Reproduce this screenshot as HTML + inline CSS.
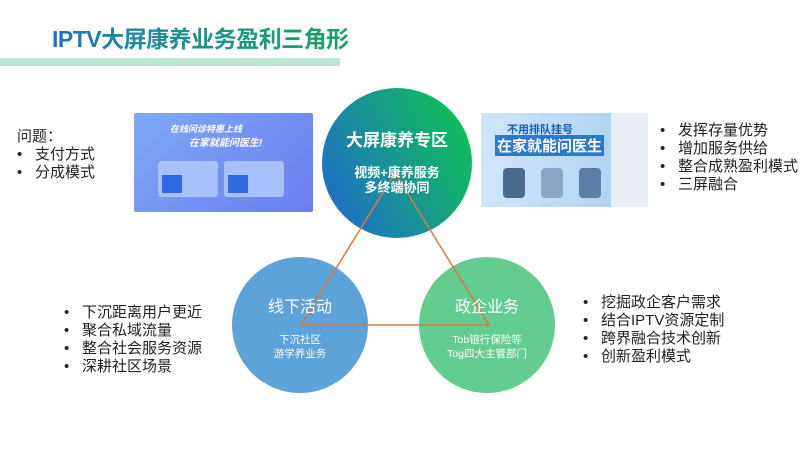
<!DOCTYPE html>
<html><head><meta charset="utf-8"><style>
*{margin:0;padding:0}
body{width:800px;height:450px;background:#fff;position:relative;overflow:hidden;font-family:"Liberation Sans","Noto Sans CJK SC",sans-serif}
.a{position:absolute;white-space:nowrap}
.t{font-size:15px;line-height:18px;color:#222}
.t span{display:inline-block;width:18px}
</style></head><body>
<div class="a" style="left:52px;top:24px;font-size:23px;font-weight:bold;line-height:30px;background:linear-gradient(90deg,#1f6fc4 0%,#1f8aa0 30%,#16a65a 100%);-webkit-background-clip:text;color:transparent;letter-spacing:-0.5px">IPTV大屏康养业务盈利三角形</div>
<div class="a" style="left:0;top:58px;width:340px;height:8px;background:#bfe6d3"></div>

<div class="a" style="left:134px;top:113px;width:179px;height:99px;background:linear-gradient(135deg,#7fa8f4,#6a7ff0);border-radius:2px">
 <div class="a" style="left:36px;top:9px;font-size:9px;color:#fff;font-weight:bold;font-style:italic">在线问诊特惠上线</div>
 <div class="a" style="left:55px;top:21px;font-size:10px;color:#fff;font-weight:bold;font-style:italic">在家就能问医生!</div>
 <div class="a" style="left:24px;top:48px;width:60px;height:36px;background:#a8c0fb;border-radius:3px"></div>
 <div class="a" style="left:90px;top:48px;width:60px;height:36px;background:#a8c0fb;border-radius:3px"></div>
 <div class="a" style="left:28px;top:62px;width:20px;height:18px;background:#2f6ae0"></div>
 <div class="a" style="left:94px;top:62px;width:20px;height:18px;background:#2f6ae0"></div>
</div>

<div class="a" style="left:481px;top:113px;width:167px;height:94px;background:linear-gradient(90deg,#cfe6fb,#a9cff1)">
 <div class="a" style="left:26px;top:8px;font-size:11px;font-weight:bold;color:#1d5fb5">不用排队挂号</div>
 <div class="a" style="left:14px;top:22px;font-size:15px;font-weight:bold;color:#fff;background:#2a79cf;padding:0 2px">在家就能问医生</div>
 <div class="a" style="left:22px;top:55px;width:22px;height:30px;background:#4a6a8e;border-radius:4px"></div>
 <div class="a" style="left:60px;top:55px;width:22px;height:30px;background:#8aa6c6;border-radius:4px"></div>
 <div class="a" style="left:98px;top:55px;width:22px;height:30px;background:#5c7da5;border-radius:4px"></div>
 <div class="a" style="left:130px;top:0;width:37px;height:94px;background:#e8eef4"></div>
</div>

<svg class="a" style="left:0;top:0" width="800" height="450">
 <defs><linearGradient id="g" x1="0" y1="0.75" x2="1" y2="0.25"><stop offset="0" stop-color="#1f6ec9"/><stop offset="1" stop-color="#10c055"/></linearGradient></defs>
 <circle cx="397" cy="163" r="75" fill="url(#g)"/>
 <circle cx="300" cy="325" r="68" fill="#5ba3d9"/>
 <circle cx="487" cy="325" r="68" fill="#62cd8f"/>
 <polygon points="301,325 489,325 395,173" fill="none" stroke="#e0763f" stroke-width="1.5"/>
 <g font-family="Liberation Sans,Noto Sans CJK SC,sans-serif" fill="#fff" text-anchor="middle">
 <text x="397" y="146" font-size="17" font-weight="bold">大屏康养专区</text>
 <text x="397" y="177" font-size="13" font-weight="bold">视频+康养服务</text>
 <text x="397" y="192" font-size="13" font-weight="bold">多终端协同</text>
 <text x="300" y="312" font-size="16">线下活动</text>
 <text x="300" y="343" font-size="10.5">下沉社区</text>
 <text x="300" y="357" font-size="10.5">游学养业务</text>
 <text x="487" y="312" font-size="16">政企业务</text>
 <text x="487" y="343" font-size="10.5">Tob银行保险等</text>
 <text x="487" y="357" font-size="10.5">Tog四大主管部门</text>
 </g>
</svg>

<div class="a t" style="left:17px;top:128px">问题：<br><span>•</span>支付方式<br><span>•</span>分成模式</div>
<div class="a t" style="left:660px;top:122px"><span>•</span>发挥存量优势<br><span>•</span>增加服务供给<br><span>•</span>整合成熟盈利模式<br><span>•</span>三屏融合</div>
<div class="a t" style="left:64px;top:304px"><span>•</span>下沉距离用户更近<br><span>•</span>聚合私域流量<br><span>•</span>整合社会服务资源<br><span>•</span>深耕社区场景</div>
<div class="a t" style="left:583px;top:294px"><span>•</span>挖掘政企客户需求<br><span>•</span>结合IPTV资源定制<br><span>•</span>跨界融合技术创新<br><span>•</span>创新盈利模式</div>
</body></html>
